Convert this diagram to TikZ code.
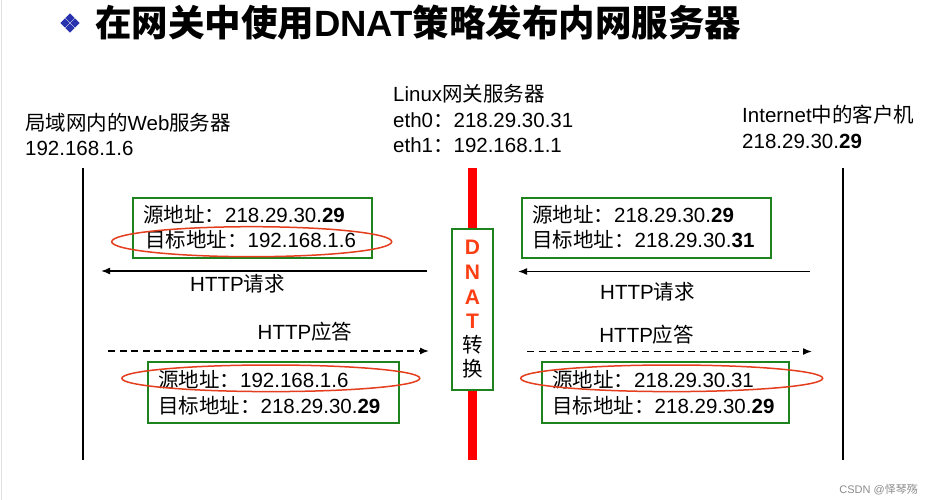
\documentclass[tikz,border=0pt]{standalone}
\usepackage{fontspec}
\setmainfont{Liberation Sans}
\newfontfamily\cjk{Noto Sans CJK SC}
\usetikzlibrary{arrows.meta}
\newcommand\zh[1]{{\cjk #1}}
\definecolor{boxgreen}{RGB}{30,130,30}
\definecolor{ringred}{RGB}{228,62,30}
\definecolor{barred}{RGB}{255,0,0}
\definecolor{dnatred}{RGB}{252,62,20}
\definecolor{bulletblue}{RGB}{40,50,175}
\tikzset{
  txt/.style={anchor=base west, inner sep=0pt, font=\fontsize{20.5}{24}\selectfont},
  ctxt/.style={txt, anchor=base},
  addrbox/.style={draw=boxgreen, line width=1.6pt},
  ring/.style={draw=ringred, line width=1.5pt},
  lifeline/.style={line width=1.6pt},
  req/.style={line width=1.5pt, -{Latex[length=9pt,width=7pt]}},
  resp/.style={req, dash pattern=on 7pt off 4.5pt},
  dnatl/.style={inner sep=0pt, text=dnatred, font=\fontsize{21}{21}\selectfont\bfseries},
}
\begin{document}
\begin{tikzpicture}[x=1pt,y=1pt,yscale=-1,xscale=1]
\useasboundingbox (0,0) rectangle (928,500);
\fill[white] (0,0) rectangle (928,500);
\draw[black!12, line width=0.8pt] (1,0) -- (1,500);

%Shape: bullet
\foreach \dx/\dy in {-5/0,5/0,0/-5,0/5}
  \fill[bulletblue] ({70+\dx},{23+\dy-4.6}) -- ++(4.6,4.6) -- ++(-4.6,4.6) -- ++(-4.6,-4.6) -- cycle;
% Text Node
\node (title) at (95,37) [anchor=base west, inner sep=0pt, font=\fontsize{36.5}{36}\selectfont\bfseries]
  {\zh{在网关中使用}DNAT\zh{策略发布内网服务器}};

% Text Node
\node (web) at (25,130) [txt] {\zh{局域网内的}Web\zh{服务器}};
\node (webip) at (25,155.5) [txt] {192.168.1.6};
\node (gw) at (393,102) [txt] {Linux\zh{网关服务器}};
\node (gweth0) at (393,127.5) [txt] {eth0\zh{：}218.29.30.31};
\node (gweth1) at (393,152.5) [txt] {eth1\zh{：}192.168.1.1};
\node (cli) at (742,122) [txt] {Internet\zh{中的客户机}};
\node (cliip) at (742,148) [txt] {218.29.30.\textbf{29}};

%Straight Lines
\coordinate (webtop) at (83,168);
\coordinate (webbot) at (83,460);
\coordinate (clitop) at (843,168);
\coordinate (clibot) at (843,460);
\coordinate (gwtop) at (472.5,168);
\coordinate (gwbot) at (472.5,460);
\draw[lifeline] (webtop) -- (webbot);
\draw[lifeline] (clitop) -- (clibot);
\draw[barred, line width=9.5pt] (gwtop) -- (gwbot);

%Shape: DNAT box
\node (dnat) at (472.5,309.5) [draw=boxgreen, line width=1.6pt, fill=white, minimum width=41pt, minimum height=161pt] {};
\foreach \ch/\yy in {D/247,N/272.5,A/297,T/321.5}
  \node (dnat\ch) at (472.5,\yy) [dnatl] {\ch};
\node (zhuan) at (472.5,345) [inner sep=0pt, font=\fontsize{20.5}{20}\selectfont] {\zh{转}};
\node (huan) at (472.5,369) [inner sep=0pt, font=\fontsize{20.5}{20}\selectfont] {\zh{换}};

%Shape: Rectangle
\draw[addrbox] (133,198) rectangle (372,258);
\draw[addrbox] (522,198) rectangle (771,258);
\draw[addrbox] (148,362) rectangle (399,423);
\draw[addrbox] (542,362) rectangle (789,423);

% Text Node
\node (reqLsrc) at (143,222.5) [txt] {\zh{源地址：}218.29.30.\textbf{29}};
\node (reqLdst) at (145,247.5) [txt] {\zh{目标地址：}192.168.1.6};
\node (reqRsrc) at (532,222.5) [txt] {\zh{源地址：}218.29.30.\textbf{29}};
\node (reqRdst) at (532,247.5) [txt] {\zh{目标地址：}218.29.30.\textbf{31}};
\node (respLsrc) at (158,387.5) [txt] {\zh{源地址：}192.168.1.6};
\node (respLdst) at (158,413.5) [txt] {\zh{目标地址：}218.29.30.\textbf{29}};
\node (respRsrc) at (552,387.5) [txt] {\zh{源地址：}218.29.30.31};
\node (respRdst) at (552,413.5) [txt] {\zh{目标地址：}218.29.30.\textbf{29}};

%Shape: Ellipse
\draw[ring] (251.7,241.7) ellipse [x radius=140pt, y radius=15pt];
\draw[ring] (270.8,378.3) ellipse [x radius=149pt, y radius=13.3pt];
\draw[ring] (671.7,378.3) ellipse [x radius=151pt, y radius=13.3pt];

%Straight Lines
\coordinate (reqLa) at (427,271);
\coordinate (reqLb) at (101,271);
\coordinate (reqRa) at (810,271.5);
\coordinate (reqRb) at (518,271.5);
\coordinate (respLa) at (108,351);
\coordinate (respLb) at (429,351);
\coordinate (respRa) at (527,351.5);
\coordinate (respRb) at (812,351.5);
\draw[req] (reqLa) -- (reqLb);
\draw[req] (reqRa) -- (reqRb);
\draw[resp] (respLa) -- (respLb);
\draw[resp] (respRa) -- (respRb);

% Text Node
\node (reqLlbl) at (237.5,291.5) [ctxt] {HTTP\zh{请求}};
\node (reqRlbl) at (647.5,299.5) [ctxt] {HTTP\zh{请求}};
\node (respLlbl) at (305,339.5) [ctxt] {HTTP\zh{应答}};
\node (respRlbl) at (646.7,342.5) [ctxt] {HTTP\zh{应答}};

% Text Node
\node (mark) at (918,493) [anchor=base east, inner sep=0pt, text=black!45, font=\fontsize{11}{11}\selectfont] {CSDN @\zh{怿琴殇}};

\end{tikzpicture}
\end{document}
